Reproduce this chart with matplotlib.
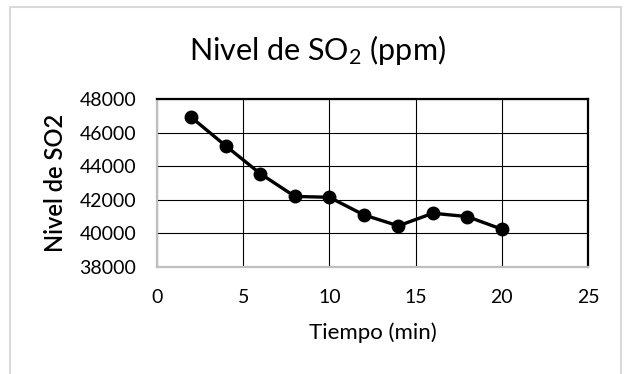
import matplotlib.pyplot as plt
from matplotlib.patches import Rectangle

# data
tiempo = [2, 4, 6, 8, 10, 12, 14, 16, 18, 20]
nivel_so2 = [46900, 45200, 43550, 42200, 42150, 41100, 40450, 41200, 41000, 40250]

x_ticks = [0, 5, 10, 15, 20, 25]
y_ticks = [38000, 40000, 42000, 44000, 46000, 48000]

plt.rcParams['font.family'] = ['Lato', 'DejaVu Sans']
plt.rcParams['mathtext.fontset'] = 'custom'
plt.rcParams['mathtext.rm'] = 'Lato'
plt.rcParams['mathtext.it'] = 'Lato'

fig = plt.figure(figsize=(6.27, 3.74), dpi=100)
ax = fig.add_axes([0.2504, 0.2861, 0.6874, 0.4492])

# light border round the chart area
fig.patches.append(Rectangle((10 / 627, -0.05), 611 / 627, 1 - 7 / 374 + 0.05,
                             transform=fig.transFigure, fill=False,
                             edgecolor='#d9d9d9', linewidth=1.5))

ax.plot(tiempo, nivel_so2, color='black', linewidth=2.4,
        marker='o', markersize=9, zorder=3)

ax.set_xlim(0, 25)
ax.set_ylim(38000, 48000)
ax.set_xticks(x_ticks)
ax.set_yticks(y_ticks)
ax.grid(True, color='black', linewidth=0.8)
ax.set_axisbelow(True)
ax.tick_params(length=0, labelsize=14)
ax.tick_params(axis='x', pad=16)
ax.tick_params(axis='y', pad=15)

for side in ['top', 'right']:
    ax.spines[side].set_color('black')
    ax.spines[side].set_linewidth(1.6)
for side in ['left', 'bottom']:
    ax.spines[side].set_color('#bfbfbf')
    ax.spines[side].set_linewidth(1.6)

fig.text(0.507, 1 - 50 / 374, r'Nivel de SO$_2$ (ppm)', ha='center', va='center', fontsize=22)
ax.set_xlabel('Tiempo (min)', fontsize=16, labelpad=12)
ax.set_ylabel('Nivel de SO2', fontsize=17, labelpad=9, fontweight='semibold')

fig.savefig('out.png', dpi=100)
